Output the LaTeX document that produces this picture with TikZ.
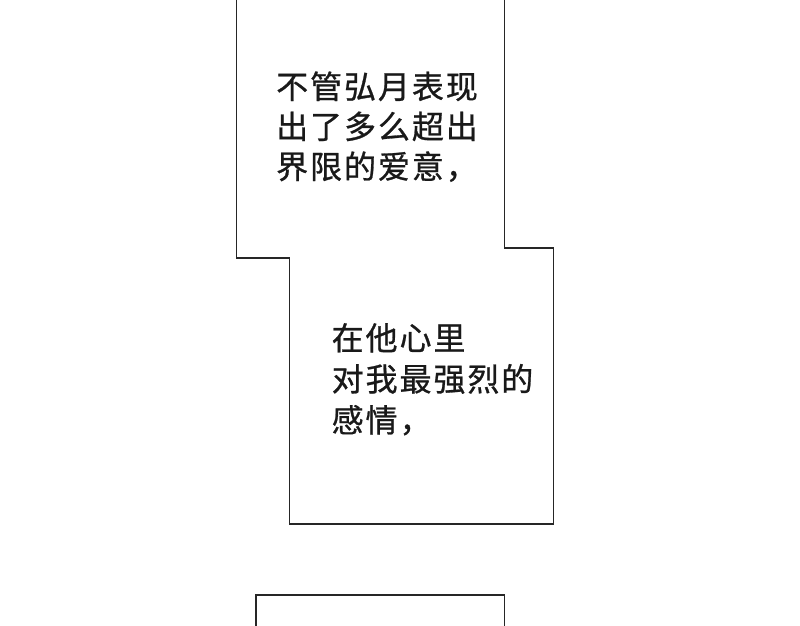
\documentclass[tikz,border=0pt]{standalone}
\usepackage{fontspec}
\newfontfamily\cjk[LetterSpace=6, FakeBold=0.8]{Noto Sans CJK SC}
\tikzset{
  panel/.style={draw=black!85, line width=1.5pt, line join=miter},
  caption/.style={font={\cjk\fontsize{32}{40}\selectfont}, align=left, inner sep=0pt, anchor=base west, text=black!90}
}

\begin{document}
\begin{tikzpicture}[x=1pt, y=-1pt]
    \useasboundingbox (0,0) rectangle (800,625);

    % upper stepped panel
    \draw[panel] (236.5,-5) -- (236.5,258) -- (289.5,258) -- (289.5,524) -- (553.5,524) -- (553.5,248) -- (504.5,248) -- (504.5,-5);
    % lower panel
    \draw[panel] (256,630) -- (256,595) -- (504.5,595) -- (504.5,630);

    \node[caption] (first) at (276,178.5) {不管弘月表现\\出了多么超出\\界限的爱意，};
    \node[caption, font={\cjk\fontsize{32}{41}\selectfont}] (second) at (331.5,432) {在他心里\\对我最强烈的\\感情，};
  \end{tikzpicture}
\end{document}
